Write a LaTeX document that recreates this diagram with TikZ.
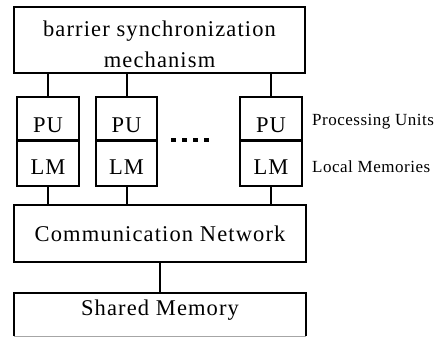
\documentclass[tikz,border=0pt]{standalone}
\usepackage{fontspec}
\setmainfont{Liberation Serif}[LetterSpace=5]
\newfontfamily\sidefont{Liberation Serif}[LetterSpace=3]
\begin{document}
\begin{tikzpicture}[x=1pt,y=-1pt,
  box/.style={draw,line width=2pt,rectangle,inner sep=0pt},
  wire/.style={line width=2pt},
  big/.style={font=\fontsize{22.5}{30}\selectfont,inner sep=0pt,anchor=base},
  side/.style={font=\sidefont\fontsize{17}{20}\selectfont,inner sep=0pt,anchor=base west}]
\useasboundingbox (0,0) rectangle (446,337);

% barrier box
\node[box,minimum width=291pt,minimum height=66pt] (bar) at (159.5,40) {};
\node[big] (bart1) at (159.5,37) {barrier synchronization};
\node[big] (bart2) at (159.5,67) {mechanism};

% processor columns: PU over LM
\foreach \n/\cx/\w in {1/48/62,2/126.5/61,3/271/62}{
  \node[box,minimum width=\w pt,minimum height=44pt] (pu\n) at (\cx,118.5) {};
  \node[box,minimum width=\w pt,minimum height=46pt] (lm\n) at (\cx,163) {};
  \node[big] (put\n) at (\cx,132) {PU};
  \node[big] (lmt\n) at (\cx,174) {LM};
}

% communication network
\node[box,minimum width=292pt,minimum height=57pt] (net) at (160,233.5) {};
\node[big] (nett) at (160,241) {Communication Network};

% shared memory, running off the lower edge
\node[minimum width=292pt,minimum height=43pt,inner sep=0pt] (mem) at (160,314.5) {};
\draw[line width=2pt] (mem.south west) -- (mem.north west) -- (mem.north east) -- (mem.south east);
\draw[line width=0.8pt,gray!70] (mem.south west) -- (mem.south east);
\node[big] (memt) at (160,315) {Shared Memory};

% side labels
\node[side] (lpu) at (312,125) {Processing Units};
\node[side] (llm) at (312,172) {Local Memories};

% ellipsis between the columns
\coordinate (d1) at (171,139.5);
\coordinate (d2) at (210,139.5);
\draw[line width=4pt,dash pattern=on 5pt off 6pt] (d1) -- (d2);

% connectors
\foreach \n in {1,2,3}{
  \draw[wire] (pu\n.north) -- (pu\n.north |- bar.south);
  \draw[wire] (lm\n.south) -- (lm\n.south |- net.north);
}
\draw[wire] (net.south) -- (mem.north);
\end{tikzpicture}
\end{document}
